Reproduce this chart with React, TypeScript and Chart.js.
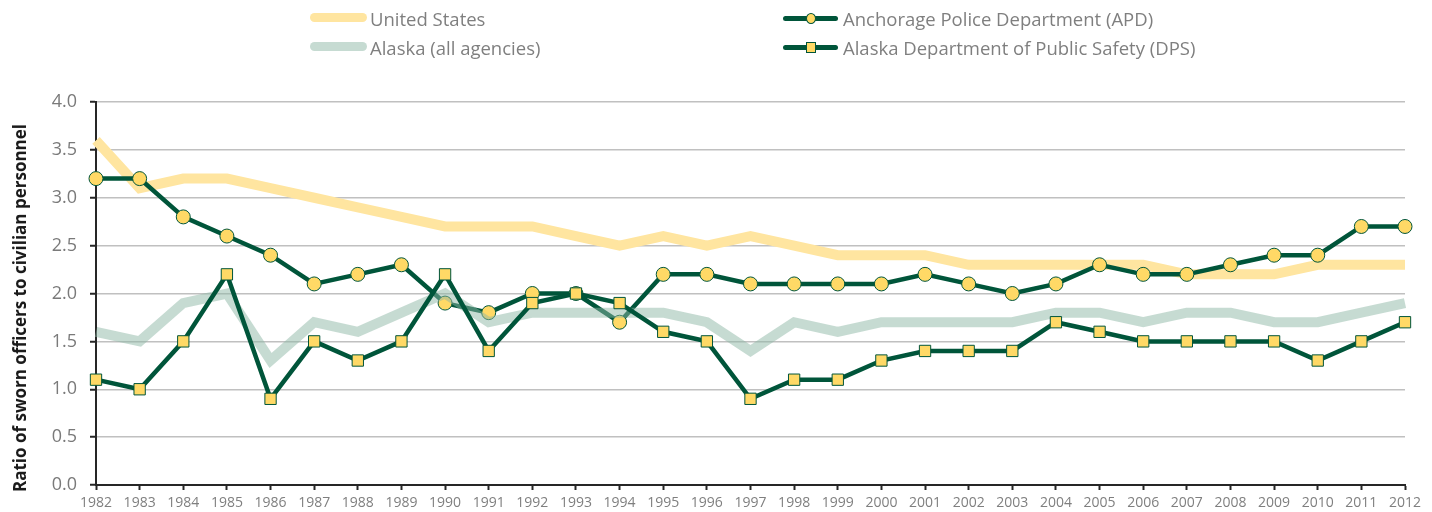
import React, { useEffect, useRef } from "react";
import { Chart, registerables } from "chart.js";

Chart.register(...registerables);

const years = [
  "1982","1983","1984","1985","1986","1987","1988","1989","1990","1991",
  "1992","1993","1994","1995","1996","1997","1998","1999","2000","2001",
  "2002","2003","2004","2005","2006","2007","2008","2009","2010","2011","2012",
];

const unitedStates = [3.6,3.1,3.2,3.2,3.1,3.0,2.9,2.8,2.7,2.7,2.7,2.6,2.5,2.6,2.5,2.6,2.5,2.4,2.4,2.4,2.3,2.3,2.3,2.3,2.3,2.2,2.2,2.2,2.3,2.3,2.3];
const alaskaAll = [1.6,1.5,1.9,2.0,1.3,1.7,1.6,1.8,2.0,1.7,1.8,1.8,1.8,1.8,1.7,1.4,1.7,1.6,1.7,1.7,1.7,1.7,1.8,1.8,1.7,1.8,1.8,1.7,1.7,1.8,1.9];
const apd = [3.2,3.2,2.8,2.6,2.4,2.1,2.2,2.3,1.9,1.8,2.0,2.0,1.7,2.2,2.2,2.1,2.1,2.1,2.1,2.2,2.1,2.0,2.1,2.3,2.2,2.2,2.3,2.4,2.4,2.7,2.7];
const dps = [1.1,1.0,1.5,2.2,0.9,1.5,1.3,1.5,2.2,1.4,1.9,2.0,1.9,1.6,1.5,0.9,1.1,1.1,1.3,1.4,1.4,1.4,1.7,1.6,1.5,1.5,1.5,1.5,1.3,1.5,1.7];

const yTicks = [0, 0.5, 1, 1.5, 2, 2.5, 3, 3.5, 4];
const yTitle = "Ratio of sworn officers to civilian personnel";

const FONT = "'Open Sans', 'Liberation Sans', sans-serif";
const US_COLOR = "#ffe5a0";
const AK_COLOR = "rgba(141,183,165,0.5)";
const GREEN = "#00553a";
const MARKER = "#ffd966";

const legendItems = [
  { label: "United States", kind: "us", x: 310, y: 18 },
  { label: "Alaska (all agencies)", kind: "ak", x: 310, y: 47 },
  { label: "Anchorage Police Department (APD)", kind: "apd", x: 783, y: 18 },
  { label: "Alaska Department of Public Safety (DPS)", kind: "dps", x: 783, y: 47 },
];

function LegendSample({ kind }: { kind: string }) {
  const base: React.CSSProperties = {
    position: "relative",
    width: 57,
    height: 12,
    display: "inline-block",
    marginRight: 3,
  };
  if (kind === "us" || kind === "ak") {
    return (
      <span style={base}>
        <span
          style={{
            position: "absolute",
            left: 0,
            right: 0,
            top: 1,
            height: 9,
            borderRadius: 5,
            background: kind === "us" ? US_COLOR : "#c6dbd2",
          }}
        />
      </span>
    );
  }
  return (
    <span style={base}>
      <span
        style={{
          position: "absolute",
          left: 0,
          right: 2,
          top: 4,
          height: 5,
          borderRadius: 3,
          background: GREEN,
        }}
      />
      <span
        style={{
          position: "absolute",
          left: 23,
          top: 1,
          width: 10,
          height: 11,
          boxSizing: "border-box",
          borderRadius: kind === "apd" ? "50%" : 0,
          background: MARKER,
          border: `1px solid ${GREEN}`,
        }}
      />
    </span>
  );
}

export default function App() {
  const canvasRef = useRef<HTMLCanvasElement | null>(null);

  useEffect(() => {
    document.body.style.margin = "0";
    const ctx = canvasRef.current;
    if (!ctx) return;
    const chart = new Chart(ctx, {
      type: "line",
      data: {
        labels: years,
        datasets: [
          {
            label: "United States",
            data: unitedStates,
            borderColor: US_COLOR,
            borderWidth: 10,
            pointRadius: 0,
            tension: 0,
            order: 3,
          },
          {
            label: "Anchorage Police Department (APD)",
            data: apd,
            borderColor: GREEN,
            borderWidth: 4.5,
            pointStyle: "circle",
            pointRadius: 7,
            pointBackgroundColor: MARKER,
            pointBorderColor: GREEN,
            pointBorderWidth: 1,
            tension: 0,
            order: 2,
          },
          {
            label: "Alaska (all agencies)",
            data: alaskaAll,
            borderColor: AK_COLOR,
            borderWidth: 10,
            pointRadius: 0,
            tension: 0,
            order: 1,
          },
          {
            label: "Alaska Department of Public Safety (DPS)",
            data: dps,
            borderColor: GREEN,
            borderWidth: 4.5,
            pointStyle: "rect",
            pointRadius: 8,
            pointBackgroundColor: MARKER,
            pointBorderColor: GREEN,
            pointBorderWidth: 1,
            tension: 0,
            order: 0,
          },
        ],
      },
      options: {
        animation: false,
        responsive: true,
        maintainAspectRatio: false,
        layout: { padding: { left: 0, top: 102, right: 27, bottom: 0 } },
        plugins: {
          legend: { display: false },
          tooltip: { enabled: false },
        },
        scales: {
          x: {
            type: "category",
            offset: false,
            grid: {
              drawOnChartArea: false,
              drawTicks: true,
              tickLength: 5,
              tickColor: "#262626",
              tickWidth: 2,
            },
            border: { display: true, color: "#262626", width: 2 },
            ticks: {
              color: "#7f7f7f",
              font: { family: FONT, size: 14 },
              padding: 5,
              maxRotation: 0,
              autoSkip: false,
            },
            afterFit: (s: any) => {
              s.height = 27;
            },
          },
          y: {
            min: 0,
            max: 4,
            afterBuildTicks: (s: any) => {
              s.ticks = yTicks.map((v) => ({ value: v }));
            },
            grid: {
              color: "#c0c0c0",
              lineWidth: 1.5,
              drawTicks: true,
              tickLength: 6,
              tickColor: "#262626",
              tickWidth: 2,
            },
            border: { display: true, color: "#262626", width: 2 },
            ticks: {
              color: "#7a7a7a",
              font: { family: FONT, size: 18 },
              padding: 13,
              callback: (v: any) => Number(v).toFixed(1),
            },
            title: { display: false },
            afterFit: (s: any) => {
              s.width = 96;
            },
          },
        },
      },
    });
    return () => chart.destroy();
  }, []);

  return (
    <div style={{ position: "absolute", left: 0, top: 0, width: 1432, height: 512, background: "#fff" }}>
      <canvas ref={canvasRef} />
      <div
        style={{
          position: "absolute",
          left: 20,
          top: 308,
          transform: "translate(-50%, -50%) rotate(-90deg)",
          fontFamily: FONT,
          fontSize: 17,
          fontWeight: "bold",
          color: "#1a1a1a",
          whiteSpace: "nowrap",
          lineHeight: "20px",
        }}
      >
        {yTitle}
      </div>
      {legendItems.map((it) => (
        <div
          key={it.label}
          style={{
            position: "absolute",
            left: it.x,
            top: it.y - 12,
            height: 24,
            display: "flex",
            alignItems: "center",
            fontFamily: FONT,
            fontSize: 18.5,
            color: "#7f7f7f",
            whiteSpace: "nowrap",
          }}
        >
          <LegendSample kind={it.kind} />
          <span>{it.label}</span>
        </div>
      ))}
    </div>
  );
}
